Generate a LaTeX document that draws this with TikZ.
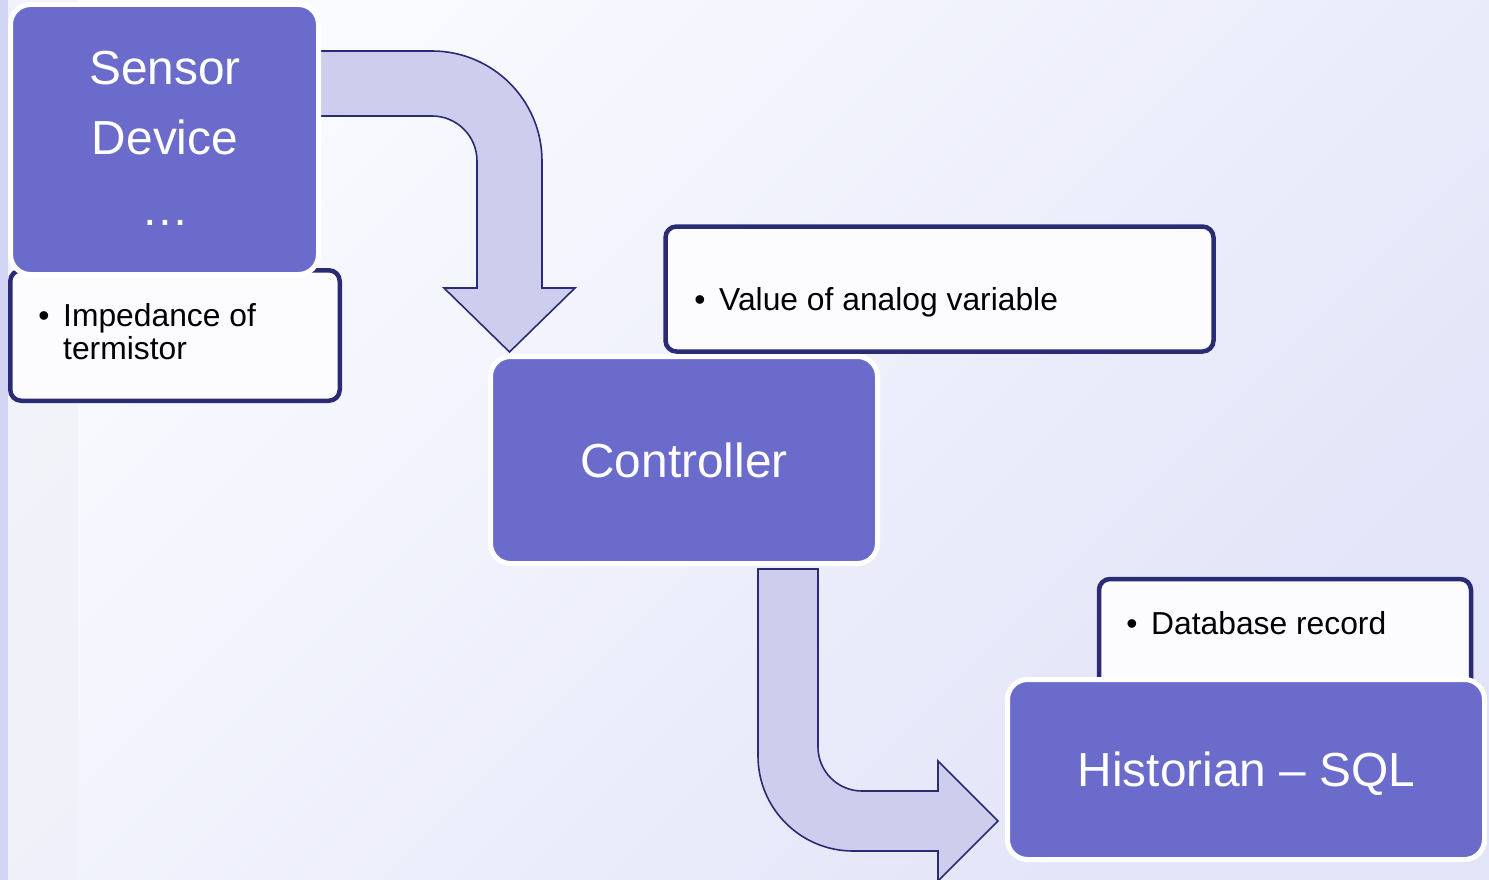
\documentclass[tikz,border=0pt]{standalone}
\usepackage{fontspec}
\setmainfont{Liberation Sans}
\definecolor{purp}{HTML}{6B6BCB}
\definecolor{navy}{HTML}{2B2A74}
\definecolor{arrfill}{HTML}{CDCEEE}
\definecolor{notefill}{HTML}{FCFCFF}
\definecolor{bgA}{HTML}{FAFBFF}
\definecolor{bgB}{HTML}{E2E4F8}
\definecolor{stripA}{HTML}{D2D6F4}
\definecolor{stripB}{HTML}{EEEFF7}
\begin{document}
\begin{tikzpicture}[x=1pt,y=1pt,
  pbox/.style={draw=white, line width=5pt, fill=purp, rounded corners=20pt, rectangle, inner sep=0pt},
  nbox/.style={draw=navy, line width=4.5pt, fill=notefill, rounded corners=11pt, rectangle, inner sep=0pt},
  arrowshape/.style={fill=arrfill, draw=navy, line width=1.6pt, line join=miter},
  bigtext/.style={text=white, font=\fontsize{47.8}{57}\selectfont, inner sep=0pt, anchor=base},
  notetext/.style={text=black, font=\fontsize{31.8}{36}\selectfont, inner sep=0pt, anchor=base west},
  bullet/.style={text=black, font=\fontsize{31.8}{36}\selectfont, inner sep=0pt, anchor=base}
]
\useasboundingbox (0,0) rectangle (1489,-880);
% background
\shade[top color=bgA, bottom color=bgB, shading angle=45] (0,0) rectangle (1489,-880);
\fill[stripB, opacity=0.6] (8,0) rectangle (78,-880);
\fill[stripA] (0,0) rectangle (8,-880);

% bent arrows
\draw[arrowshape] (319,-51) -- (432,-51) arc[start angle=90, end angle=0, radius=110]
  -- (542,-288) -- (575,-288) -- (509.5,-352) -- (444,-288) -- (477,-288)
  -- (477,-161) arc[start angle=0, end angle=90, radius=45] -- (319,-116) -- cycle;
\draw[arrowshape] (758,-569) -- (818,-569) -- (818,-747) arc[start angle=180, end angle=270, radius=44]
  -- (938,-791) -- (938,-761) -- (998,-821) -- (938,-881) -- (938,-851)
  -- (853,-851) arc[start angle=270, end angle=180, radius=95] -- cycle;

% note boxes
\node[nbox, minimum width=329.5pt, minimum height=130.5pt] (note1) at (175,-335.5) {};
\node[nbox, minimum width=548pt, minimum height=125pt] (note2) at (939.5,-289) {};
\node[nbox, minimum width=372pt, minimum height=121pt] (note3) at (1285,-639.5) {};

% main boxes
\node[pbox, minimum width=308pt, minimum height=270pt] (sensor) at (164.5,-139.5) {};
\node[pbox, minimum width=387pt, minimum height=207pt] (controller) at (684,-460) {};
\node[pbox, minimum width=477pt, minimum height=180pt] (historian) at (1246,-769.5) {};

% main texts
\node[bigtext] (sensorA) at (165,-85) {Sensor};
\node[bigtext] (sensorB) at (165,-154) {Device};
\node[bigtext] (sensorC) at (165,-225) {…};
\node[bigtext] (controllerT) at (684,-477) {Controller};
\node[bigtext] (historianT) at (1246.5,-786) {Historian – SQL};

% note texts
\node[bullet] (b1) at (44,-326) {•};
\node[notetext] (n1a) at (63,-326) {Impedance of};
\node[notetext] (n1b) at (63,-359) {termistor};
\node[bullet] (b2) at (700,-310) {•};
\node[notetext] (n2) at (719,-310) {Value of analog variable};
\node[bullet] (b3) at (1132,-634) {•};
\node[notetext] (n3) at (1151,-634) {Database record};
\end{tikzpicture}
\end{document}
